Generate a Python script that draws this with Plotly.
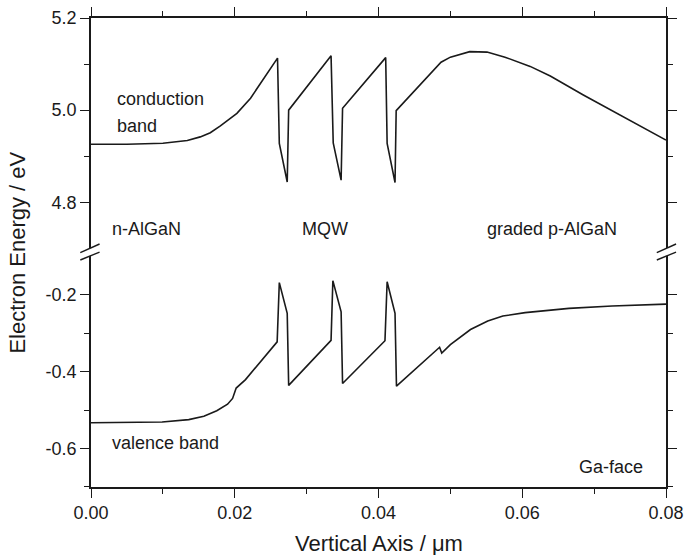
import plotly.graph_objects as go

# ---- data ----
cb_x = [0.0, 0.005, 0.010, 0.0134, 0.0152, 0.0166, 0.0180, 0.0203, 0.0222, 0.02595,
        0.0262, 0.0273, 0.0275, 0.0334, 0.0337, 0.0348, 0.0350, 0.0410, 0.0412,
        0.0423, 0.04246, 0.0487, 0.0500, 0.0527, 0.0551, 0.0576, 0.0611, 0.0639,
        0.0685, 0.0800]
cb_y = [4.926, 4.926, 4.928, 4.934, 4.942, 4.951, 4.966, 4.993, 5.026, 5.113,
        4.928, 4.844, 5.000, 5.118, 4.929, 4.848, 5.004, 5.114, 4.928,
        4.843, 4.999, 5.104, 5.115, 5.127, 5.126, 5.115, 5.095, 5.074,
        5.033, 4.935]

vb_x = [0.0, 0.0099, 0.0136, 0.0157, 0.0175, 0.0190, 0.0197, 0.0202, 0.0215,
        0.0239, 0.0259, 0.0262, 0.0273, 0.0275, 0.0334, 0.03365, 0.0348, 0.0350,
        0.0409, 0.0412, 0.0423, 0.0425, 0.0485, 0.0488, 0.0500, 0.0528, 0.0552,
        0.0573, 0.0604, 0.0665, 0.0725, 0.0800]
vb_y = [-0.533, -0.531, -0.525, -0.516, -0.502, -0.485, -0.470, -0.443, -0.421,
        -0.366, -0.323, -0.169, -0.249, -0.436, -0.319, -0.164, -0.245, -0.431,
        -0.320, -0.167, -0.249, -0.438, -0.337, -0.352, -0.330, -0.291, -0.269,
        -0.256, -0.247, -0.236, -0.230, -0.225]

x_ticks = [0.0, 0.02, 0.04, 0.06, 0.08]
x_ticklabels = ["0.00", "0.02", "0.04", "0.06", "0.08"]
x_minor = [0.01, 0.03, 0.05, 0.07]
up_ticks = [4.8, 5.0, 5.2]
up_ticklabels = ["4.8", "5.0", "5.2"]
up_minor = [4.9, 5.1]
lo_ticks = [-0.6, -0.4, -0.2]
lo_ticklabels = ["-0.6", "-0.4", "-0.2"]
lo_minor = [-0.7, -0.5, -0.3]

FONT = "Liberation Sans, Arial, Helvetica, sans-serif"
BLACK = "#1a1a1a"

fig = go.Figure()
fig.add_trace(go.Scatter(x=cb_x, y=cb_y, mode="lines", xaxis="x2", yaxis="y2",
                         line=dict(color=BLACK, width=1.6), showlegend=False))
fig.add_trace(go.Scatter(x=vb_x, y=vb_y, mode="lines", xaxis="x", yaxis="y",
                         line=dict(color=BLACK, width=1.6), showlegend=False))

LO_TOP = 0.4925
UP_BOT = 0.5088

axis_common = dict(showline=True, linecolor=BLACK, linewidth=1.5, showgrid=False,
                   zeroline=False, ticks="outside", ticklen=9, tickwidth=1.3,
                   tickcolor=BLACK, automargin=False,
                   tickfont=dict(family=FONT, size=18, color=BLACK))
minor_common = dict(ticklen=5, ticks="outside", tickcolor=BLACK, tickwidth=1.3)

fig.update_layout(
    width=686, height=555,
    margin=dict(l=91, r=20, t=18, b=68, autoexpand=False),
    paper_bgcolor="white", plot_bgcolor="white",
    font=dict(family=FONT, color=BLACK),
    xaxis=dict(axis_common, domain=[0, 1], range=[0, 0.08], anchor="y",
               tickvals=x_ticks, ticktext=x_ticklabels,
               minor=dict(minor_common, tickvals=x_minor)),
    xaxis2=dict(axis_common, domain=[0, 1], range=[0, 0.08], anchor="y2", side="top",
                tickvals=x_ticks, showticklabels=False, matches="x",
                minor=dict(minor_common, tickvals=x_minor)),
    yaxis=dict(axis_common, domain=[0, LO_TOP], range=[-0.7, -0.1], anchor="x",
               mirror="ticks", tickvals=lo_ticks, ticktext=lo_ticklabels,
               minor=dict(minor_common, tickvals=lo_minor)),
    yaxis2=dict(axis_common, domain=[UP_BOT, 1], range=[4.70, 5.2], anchor="x2",
                mirror="ticks", tickvals=up_ticks, ticktext=up_ticklabels,
                minor=dict(minor_common, tickvals=up_minor)),
)

# axis break marks
for xa, xb in [(-0.0186, 0.0149), (0.984, 1.0175)]:
    for ya, yb in [(0.4996, 0.5181), (0.4840, 0.5010)]:
        fig.add_shape(type="line", xref="paper", yref="paper", x0=xa, x1=xb, y0=ya, y1=yb,
                      line=dict(color=BLACK, width=1.4))

lab = dict(family=FONT, size=18, color=BLACK)
def note(text, x, y, xr, yr, xanchor="left"):
    fig.add_annotation(text=text, x=x, y=y, xref=xr, yref=yr, showarrow=False,
                       xanchor=xanchor, yanchor="middle", font=lab)

note("conduction", 0.0034, 5.024, "x2", "y2")
note("band", 0.0034, 4.966, "x2", "y2")
note("n-AlGaN", 0.0026, 4.742, "x2", "y2")
note("MQW", 0.0291, 4.742, "x2", "y2")
note("graded p-AlGaN", 0.0548, 4.742, "x2", "y2")
note("valence band", 0.0027, -0.5855, "x", "y")
note("Ga-face", 0.0771, -0.648, "x", "y", xanchor="right")

fig.add_annotation(text="Vertical Axis / \u03bcm", x=0.5, y=-0.1196, xref="paper", yref="paper",
                   showarrow=False, xanchor="center", yanchor="middle",
                   font=dict(family=FONT, size=22, color=BLACK))
fig.add_annotation(text="Electron Energy / eV", x=-0.1286, y=0.5, xref="paper", yref="paper",
                   showarrow=False, xanchor="center", yanchor="middle", textangle=-90,
                   font=dict(family=FONT, size=22, color=BLACK))

fig.write_html("out.html",
               config={"displayModeBar": False},
               post_script="document.body.style.margin='0';document.body.style.overflow='hidden';")
